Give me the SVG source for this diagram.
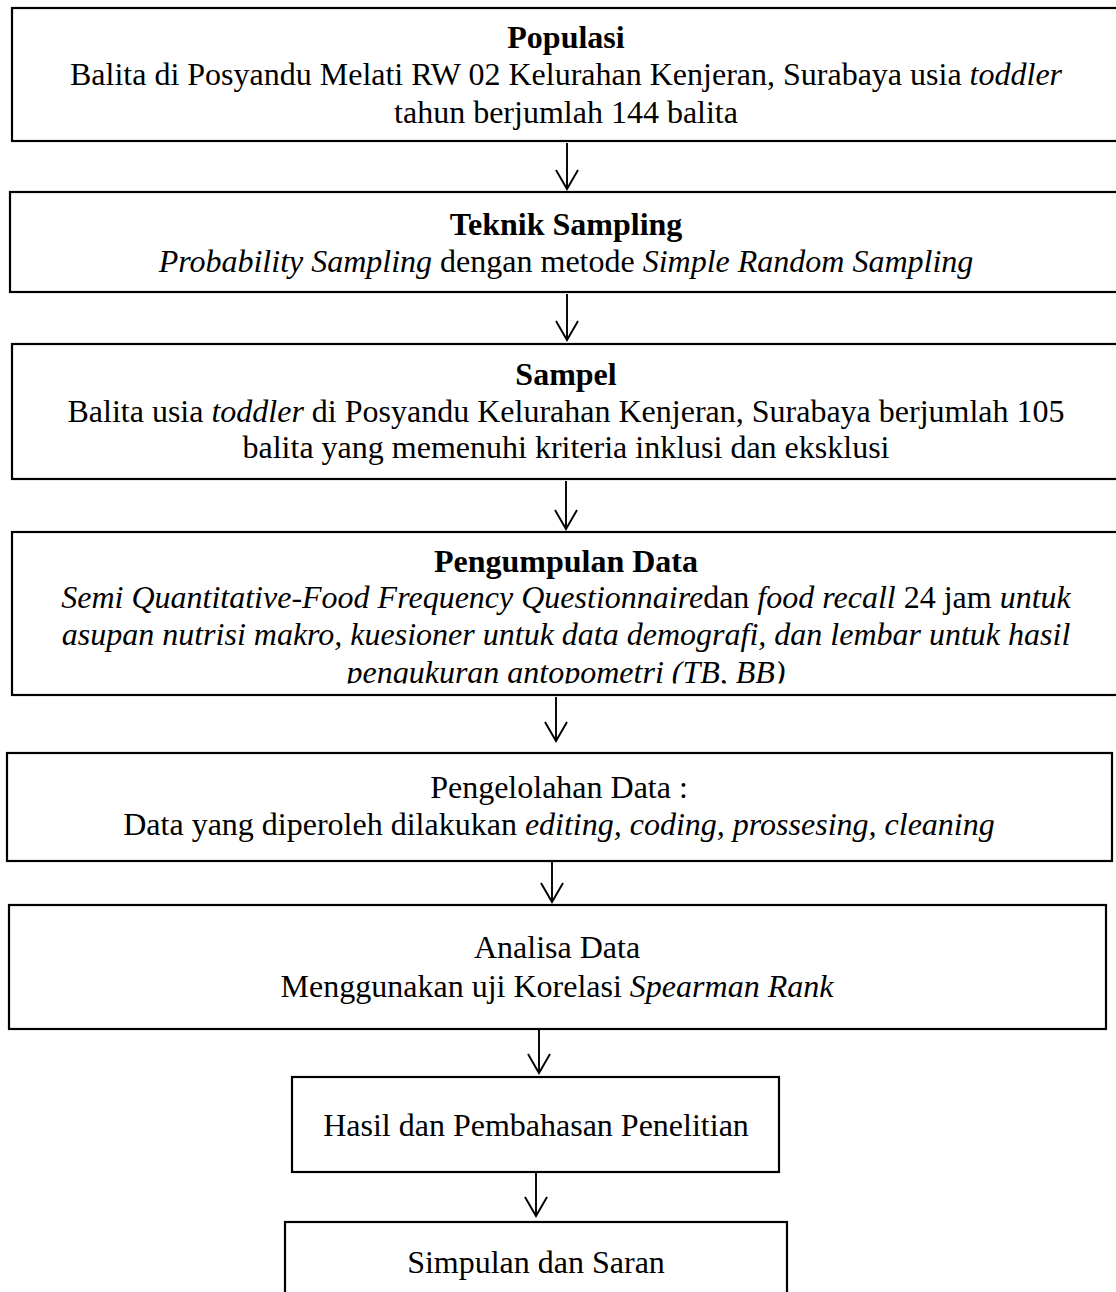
<svg xmlns="http://www.w3.org/2000/svg" width="1116" height="1292" viewBox="0 0 1116 1292">
<style>
  .box { fill: #ffffff; stroke: #000000; stroke-width: 2.2; }
  .t { font-family: "Liberation Serif", "Times New Roman", serif; font-size: 32px; fill: #000000; text-anchor: middle; }
  .b { font-weight: bold; }
  .i { font-style: italic; }
  .conn line { stroke: #000000; stroke-width: 1.9; }
</style>
<defs>
  <marker id="arr" viewBox="0 0 24 26" refX="21" refY="13" markerWidth="24" markerHeight="26" markerUnits="userSpaceOnUse" orient="auto">
    <path d="M2,2 L21,13 L2,24" fill="none" stroke="#000" stroke-width="1.9"/>
  </marker>
  <clipPath id="clip4"><rect x="0" y="520" width="1116" height="163.5"/></clipPath>
</defs>
<rect x="0" y="0" width="1116" height="1292" fill="#ffffff"/>

<g id="node-populasi">
  <rect class="box" x="12" y="8" width="1112" height="133"/>
  <text class="t b" x="566" y="48">Populasi</text>
  <text class="t" x="566" y="85">Balita di Posyandu Melati RW 02 Kelurahan Kenjeran, Surabaya usia <tspan class="i">toddler</tspan></text>
  <text class="t" x="566" y="123">tahun berjumlah 144 balita</text>
</g>

<g id="node-teknik">
  <rect class="box" x="10" y="192" width="1114" height="100"/>
  <text class="t b" x="566" y="235">Teknik Sampling</text>
  <text class="t" x="566" y="272"><tspan class="i">Probability Sampling</tspan> dengan metode <tspan class="i">Simple Random Sampling</tspan></text>
</g>

<g id="node-sampel">
  <rect class="box" x="12" y="344" width="1112" height="135"/>
  <text class="t b" x="566" y="385">Sampel</text>
  <text class="t" x="566" y="422">Balita usia <tspan class="i">toddler</tspan> di Posyandu Kelurahan Kenjeran, Surabaya berjumlah 105</text>
  <text class="t" x="566" y="458">balita yang memenuhi kriteria inklusi dan eksklusi</text>
</g>

<g id="node-pengumpulan">
  <rect class="box" x="12" y="532" width="1112" height="163"/>
  <text class="t b" x="566" y="572">Pengumpulan Data</text>
  <text class="t" x="566" y="608"><tspan class="i">Semi Quantitative-Food Frequency Questionnaire</tspan>dan <tspan class="i">food recall</tspan> 24 jam <tspan class="i">untuk</tspan></text>
  <text class="t i" x="566" y="645">asupan nutrisi makro, kuesioner untuk data demografi, dan lembar untuk hasil</text>
  <text class="t i" x="566" y="683" clip-path="url(#clip4)">pengukuran antopometri (TB, BB)</text>
</g>

<g id="node-pengelolahan">
  <rect class="box" x="7" y="753" width="1105" height="108"/>
  <text class="t" x="559" y="798">Pengelolahan Data :</text>
  <text class="t" x="559" y="835">Data yang diperoleh dilakukan <tspan class="i">editing, coding, prossesing, cleaning</tspan></text>
</g>

<g id="node-analisa">
  <rect class="box" x="9" y="905" width="1097" height="124"/>
  <text class="t" x="557" y="958">Analisa Data</text>
  <text class="t" x="557" y="997">Menggunakan uji Korelasi <tspan class="i">Spearman Rank</tspan></text>
</g>

<g id="node-hasil">
  <rect class="box" x="292" y="1077" width="487" height="95"/>
  <text class="t" x="536" y="1136">Hasil dan Pembahasan Penelitian</text>
</g>

<g id="node-simpulan">
  <rect class="box" x="285" y="1222" width="502" height="90"/>
  <text class="t" x="536" y="1273">Simpulan dan Saran</text>
</g>

<g id="connectors" class="conn">
  <line x1="567" y1="143" x2="567" y2="189" marker-end="url(#arr)"/>
  <line x1="567" y1="294" x2="567" y2="340" marker-end="url(#arr)"/>
  <line x1="566" y1="481" x2="566" y2="529" marker-end="url(#arr)"/>
  <line x1="556" y1="697" x2="556" y2="741" marker-end="url(#arr)"/>
  <line x1="552" y1="862" x2="552" y2="902" marker-end="url(#arr)"/>
  <line x1="539" y1="1030" x2="539" y2="1073" marker-end="url(#arr)"/>
  <line x1="536" y1="1173" x2="536" y2="1216" marker-end="url(#arr)"/>
</g>
</svg>
